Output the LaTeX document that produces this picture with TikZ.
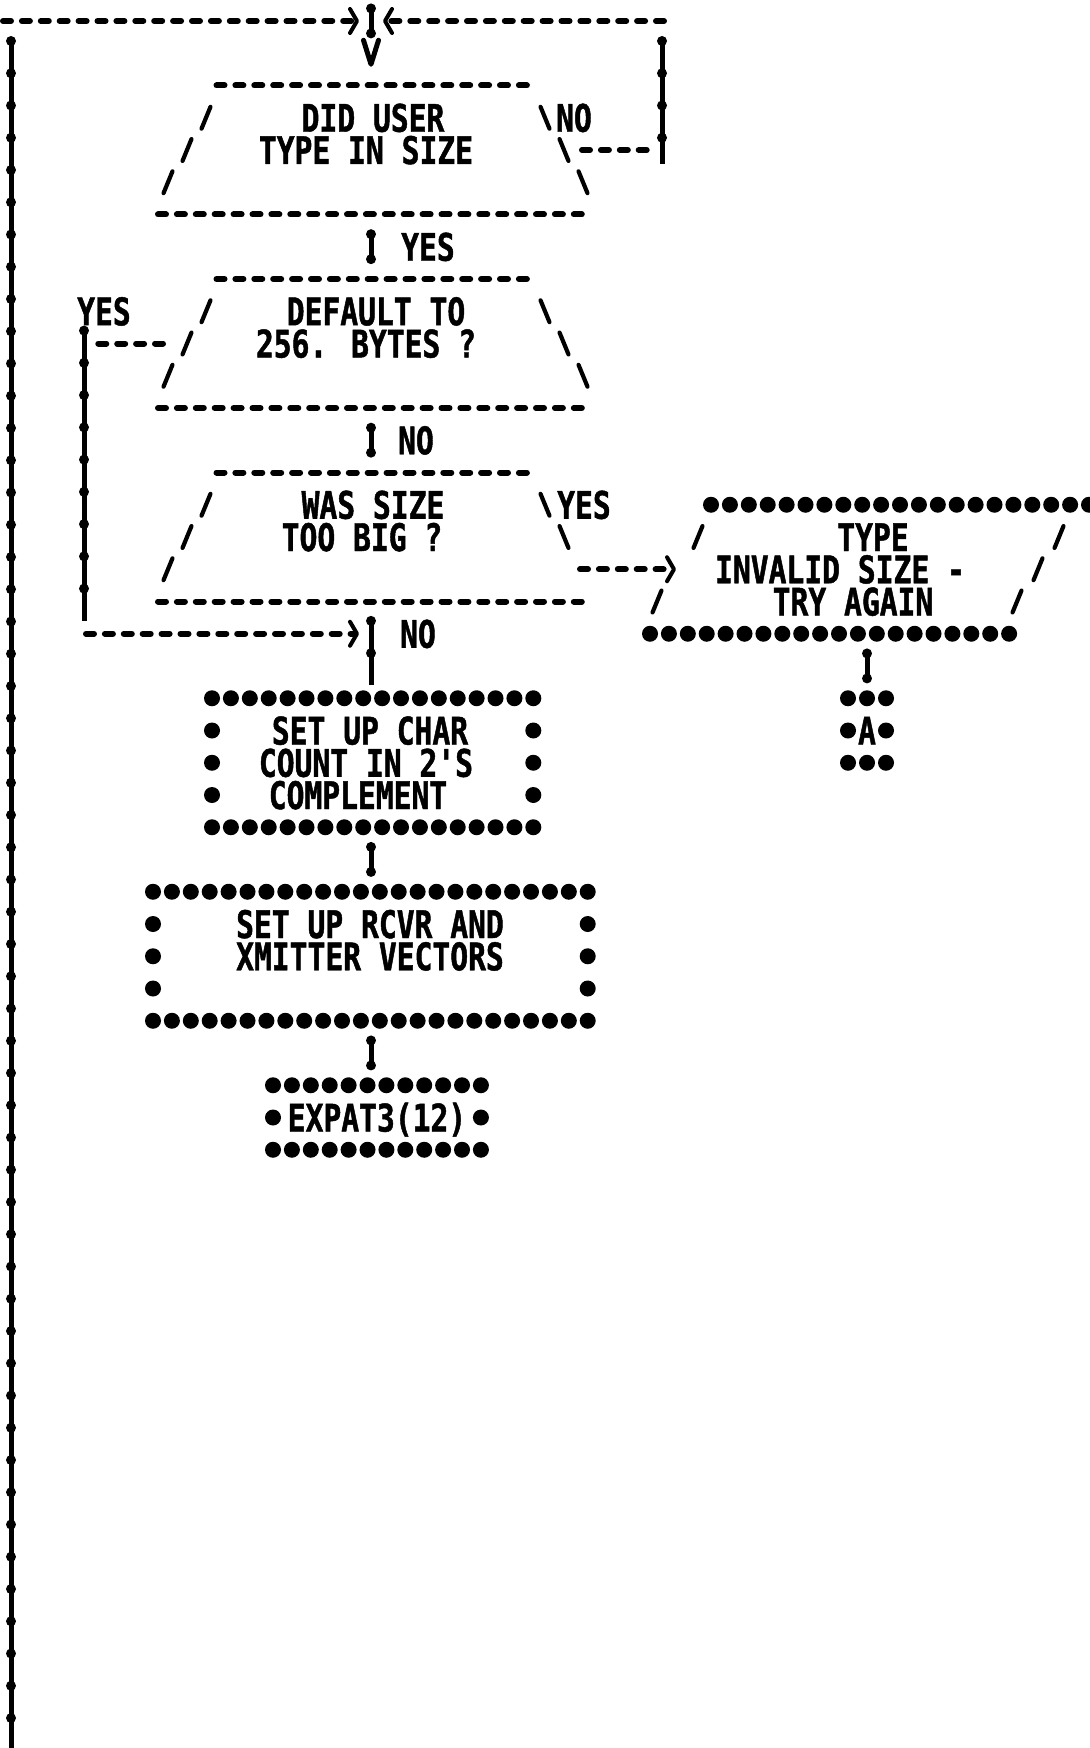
\documentclass[tikz,border=0pt]{standalone}
\usepackage{fontspec}
\newfontfamily\plotfont{DejaVu Sans Mono}[FakeStretch=0.78, FakeBold=1.2]
\usetikzlibrary{arrows.meta}
\newcommand\myfs[2]{\draw[slash] (#1,#2) ++(-4.5,0.34) -- ++(9,-0.68);}
\newcommand\mybs[2]{\draw[slash] (#1,#2) ++(-4.5,-0.34) -- ++(9,0.68);}
\newcommand\mystar[2]{\fill (#1,#2) circle[radius=8pt];}
\begin{document}
\begin{tikzpicture}[x=1pt,y=-32.25pt,
  txt/.style={font=\plotfont\bfseries\fontsize{38}{40}\selectfont, inner sep=0pt, text height=28pt, text depth=0pt, anchor=center},
  dashrow/.style={line width=6pt, line cap=round, dash pattern=on 8pt off 10.9pt},
  icol/.style={line width=5pt, postaction={draw, line width=10pt, line cap=round, dash pattern=on 0pt off 32.25pt}},
  ichar/.style={line width=5pt, postaction={draw, line width=10pt, line cap=round, dash pattern=on 0pt off 25pt}},
  slash/.style={line width=4.2pt, line cap=round},
  starrow/.style={line width=16pt, line cap=round, dash pattern=on 0pt off 18.9pt},
  paren/.tip={Straight Barb[length=7pt,width=24pt,line width=4pt,round]},
  vee/.tip={Straight Barb[length=24pt,width=15pt,line width=5pt,round]},
]
\fill[white] (0,-0.651) rectangle (1089,53.55);
\useasboundingbox (0,-0.651) rectangle (1089,53.55);

% ---------- top merge and loop-backs
\coordinate (L0) at (3,0);
\coordinate (Lin) at (359,0);
\coordinate (R0) at (664,0);
\coordinate (Rin) at (383,0);
\coordinate (Mt) at (371,-0.39);
\coordinate (Mb) at (371,0.39);
\coordinate (Vs) at (371,0.6);
\coordinate (Ve) at (371,1.42);
\coordinate (LCt) at (11,0.62);
\coordinate (LCb) at (11,53.6);
\coordinate (RCt) at (662,0.62);
\coordinate (RCb) at (662,4.43);

\draw[icol] (LCt) -- (LCb);
\draw[dashrow,-paren] (L0) -- (Lin);
\draw[ichar] (Mt) -- (Mb);
\draw[dashrow,-paren] (R0) -- (Rin);
\draw[icol] (RCt) -- (RCb);
\draw[-vee, dash pattern=on 0pt off 200pt, line cap=butt] (Vs) -- (Ve);

% ---------- decision 1
\draw[dashrow] (216.5,2) -- (530.5,2);
\node[txt] (d1a) at (373,3) {DID USER};
\node[txt] (d1b) at (366,4) {TYPE IN SIZE};
\myfs{206}{3} \myfs{187}{4} \myfs{168}{5}
\mybs{545}{3} \mybs{564}{4} \mybs{583}{5}
\node[txt] (d1no) at (574,3) {NO};
\draw[dashrow] (158,6) -- (589,6);
\coordinate (d1r) at (582,4);
\coordinate (d1rc) at (650,4);
\draw[dashrow] (d1r) -- (d1rc);

\coordinate (i1t) at (371,6.61);
\coordinate (i1b) at (371,7.39);
\draw[ichar] (i1t) -- (i1b);
\node[txt] (yes1) at (428,7) {YES};

% ---------- decision 2
\draw[dashrow] (216.5,8) -- (530.5,8);
\node[txt] (yes2) at (104,9) {YES};
\node[txt] (d2a) at (376,9) {DEFAULT TO};
\node[txt] (d2b) at (366,10) {256. BYTES ?};
\myfs{206}{9} \myfs{187}{10} \myfs{168}{11}
\mybs{545}{9} \mybs{564}{10} \mybs{583}{11}
\draw[dashrow] (158,12) -- (589,12);
\coordinate (d2l) at (163,10);
\coordinate (d2lc) at (98,10);
\coordinate (ICt) at (84,9.6);
\coordinate (ICb) at (84,18.6);
\coordinate (IC0) at (86,19);
\coordinate (ICin) at (359,19);
\draw[dashrow] (d2l) -- (d2lc);
\draw[icol] (ICt) -- (ICb);
\draw[dashrow,-paren] (IC0) -- (ICin);

\coordinate (i2t) at (371,12.61);
\coordinate (i2b) at (371,13.39);
\draw[ichar] (i2t) -- (i2b);
\node[txt] (no2) at (416,13) {NO};

% ---------- decision 3
\draw[dashrow] (216.5,14) -- (530.5,14);
\node[txt] (d3a) at (373,15) {WAS SIZE};
\node[txt] (d3b) at (362,16) {TOO BIG ?};
\myfs{206}{15} \myfs{187}{16} \myfs{168}{17}
\mybs{545}{15} \mybs{564}{16}
\node[txt] (yes3) at (584,15) {YES};
\draw[dashrow] (158,18) -- (589,18);
\coordinate (d3r) at (580,17);
\coordinate (pin) at (676,17);
\draw[dashrow,-paren] (d3r) -- (pin);

\coordinate (i3t) at (371,18.6);
\coordinate (i3b) at (371,20.6);
\draw[icol] (i3t) -- (i3b);
\node[txt] (no3) at (418,19) {NO};

% ---------- output parallelogram
\draw[starrow] (711,15) -- (1089.3,15);
\draw[starrow] (650,19) -- (1009.4,19);
\myfs{698}{16} \myfs{657}{18}
\myfs{1059}{16} \myfs{1038}{17} \myfs{1017}{18}
\node[txt] (p1) at (873,16) {TYPE};
\node[txt] (p2) at (840,17) {INVALID SIZE -};
\node[txt] (p3) at (853,18) {TRY AGAIN};
\coordinate (i4t) at (867,19.61);
\coordinate (i4b) at (867,20.39);
\draw[ichar] (i4t) -- (i4b);
\mystar{848}{21} \mystar{867}{21} \mystar{886}{21}
\mystar{848}{22} \mystar{886}{22}
\mystar{848}{23} \mystar{867}{23} \mystar{886}{23}
\node[txt] (A) at (867,22) {A};

% ---------- box 1
\draw[starrow] (212,21) -- (533.5,21);
\draw[starrow] (212,25) -- (533.5,25);
\foreach \yy in {22,23,24} {\mystar{212}{\yy} \mystar{533.3}{\yy}}
\node[txt] (b1a) at (370,22) {SET UP CHAR};
\node[txt] (b1b) at (366,23) {COUNT IN 2'S};
\node[txt] (b1c) at (358,24) {COMPLEMENT};
\coordinate (i5t) at (371,25.61);
\coordinate (i5b) at (371,26.39);
\draw[ichar] (i5t) -- (i5b);

% ---------- box 2
\draw[starrow] (153,27) -- (588,27);
\draw[starrow] (153,31) -- (588,31);
\foreach \yy in {28,29,30} {\mystar{153}{\yy} \mystar{587.7}{\yy}}
\node[txt] (b2a) at (370,28) {SET UP RCVR AND};
\node[txt] (b2b) at (370,29) {XMITTER VECTORS};
\coordinate (i6t) at (371,31.61);
\coordinate (i6b) at (371,32.39);
\draw[ichar] (i6t) -- (i6b);

% ---------- box 3
\draw[starrow] (273,33) -- (481.2,33);
\draw[starrow] (273,35) -- (481.2,35);
\mystar{273}{34} \mystar{480.9}{34}
\node[txt] (b3) at (377,34) {EXPAT3(12)};
\end{tikzpicture}
\end{document}
